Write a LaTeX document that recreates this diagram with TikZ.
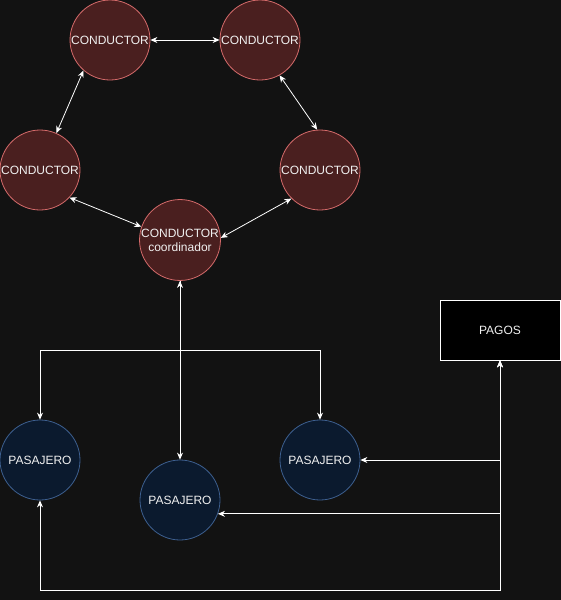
\documentclass[tikz,border=0pt]{standalone}
\usepackage{fontspec}
\setmainfont{Liberation Sans}
\usetikzlibrary{arrows.meta}
\definecolor{bg}{HTML}{121212}
\definecolor{cfill}{HTML}{4A1F1F}
\definecolor{cline}{HTML}{D46A6A}
\definecolor{pfill}{HTML}{0B1A2E}
\definecolor{pline}{HTML}{3D5F8F}
\definecolor{txt}{HTML}{F0F0F0}
\tikzset{
  cond/.style={circle, draw=cline, fill=cfill, line width=0.8pt, minimum size=80pt, inner sep=0pt, text=txt, font=\fontsize{12}{14}\selectfont, align=center},
  pas/.style={circle, draw=pline, fill=pfill, line width=0.8pt, minimum size=80pt, inner sep=0pt, text=txt, font=\fontsize{12}{14}\selectfont},
  boxn/.style={rectangle, draw=white, fill=black, line width=0.8pt, minimum width=120pt, minimum height=60pt, inner sep=0pt, text=txt, font=\fontsize{12}{14}\selectfont},
  conn/.style={draw=white, line width=0.8pt, arrows={Stealth[length=7pt,width=6pt]-Stealth[length=7pt,width=6pt]}},
  conn1/.style={draw=white, line width=0.8pt, arrows={-Stealth[length=7pt,width=6pt]}}
}
\begin{document}
\begin{tikzpicture}[x=1pt,y=-1pt]
\fill[bg] (0,0) rectangle (561,600);
\useasboundingbox (0,0) rectangle (561,600);
\node[cond] (tl) at (110,40) {CONDUCTOR};
\node[cond] (tr) at (260,40) {CONDUCTOR};
\node[cond] (ml) at (40,170) {CONDUCTOR};
\node[cond] (mr) at (320,170) {CONDUCTOR};
\node[cond] (co) at (180,240) {CONDUCTOR\\coordinador};
\node[pas] (p1) at (40,460) {PASAJERO};
\node[pas] (p2) at (180,500) {PASAJERO};
\node[pas] (p3) at (320,460) {PASAJERO};
\node[boxn] (pg) at (500,330) {PAGOS};
\coordinate (j) at (180,350);
\coordinate (b) at (500,590);
\draw[conn] (tl.east) -- (tr.west);
\draw[conn] (tl.229) -- (ml.66);
\draw[conn] (tr.299) -- (mr.94);
\draw[conn] (ml.317) -- (co.161);
\draw[conn] (mr.225) -- (co.3);
\draw[conn] (co.south) -- (p2.north);
\draw[conn1] (co.south) -- (j) -| (p1.north);
\draw[conn1] (co.south) -- (j) -| (p3.north);
\draw[conn] (pg.south) |- (p3.east);
\draw[conn] (pg.south) |- (p2.-20.5);
\draw[conn] (pg.south) -- (b) -| (p1.south);
\end{tikzpicture}
\end{document}
